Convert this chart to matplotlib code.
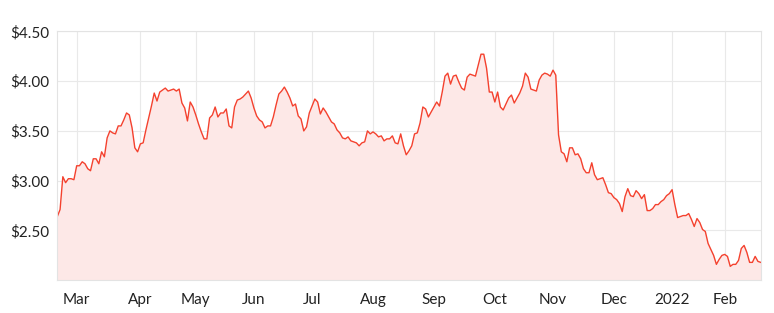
import matplotlib
matplotlib.use("Agg")
import matplotlib.pyplot as plt
import numpy as np

prices = [
    2.64, 2.71, 3.04, 2.98, 3.02, 3.02, 3.01, 3.15, 3.15, 3.19,
    3.17, 3.12, 3.10, 3.22, 3.22, 3.17, 3.29, 3.24, 3.43, 3.50,
    3.48, 3.47, 3.55, 3.55, 3.61, 3.68, 3.66, 3.53, 3.33, 3.29,
    3.37, 3.38, 3.51, 3.63, 3.75, 3.88, 3.80, 3.89, 3.91, 3.93,
    3.90, 3.91, 3.92, 3.90, 3.92, 3.78, 3.73, 3.60, 3.79, 3.74,
    3.66, 3.57, 3.49, 3.42, 3.42, 3.63, 3.66, 3.74, 3.64, 3.68,
    3.68, 3.72, 3.55, 3.53, 3.74, 3.81, 3.82, 3.84, 3.87, 3.90,
    3.83, 3.73, 3.65, 3.61, 3.59, 3.53, 3.55, 3.55, 3.64, 3.76,
    3.87, 3.90, 3.94, 3.89, 3.83, 3.75, 3.77, 3.65, 3.62, 3.50,
    3.54, 3.68, 3.75, 3.82, 3.79, 3.67, 3.73, 3.69, 3.64, 3.59,
    3.57, 3.51, 3.48, 3.43, 3.42, 3.44, 3.40, 3.39, 3.38, 3.35,
    3.38, 3.39, 3.50, 3.47, 3.49, 3.47, 3.44, 3.45, 3.40, 3.42,
    3.42, 3.45, 3.38, 3.37, 3.47, 3.35, 3.26, 3.30, 3.35, 3.47,
    3.48, 3.58, 3.74, 3.72, 3.64, 3.69, 3.74, 3.79, 3.75, 3.89,
    4.05, 4.08, 3.97, 4.05, 4.06, 3.99, 3.93, 3.91, 4.04, 4.07,
    4.06, 4.05, 4.16, 4.27, 4.27, 4.13, 3.89, 3.89, 3.79, 3.89,
    3.74, 3.71, 3.77, 3.83, 3.86, 3.78, 3.83, 3.88, 3.95, 4.08,
    4.04, 3.92, 3.91, 3.90, 4.01, 4.06, 4.08, 4.07, 4.05, 4.11,
    4.06, 3.46, 3.29, 3.27, 3.19, 3.33, 3.33, 3.26, 3.27, 3.22,
    3.12, 3.08, 3.08, 3.18, 3.06, 3.01, 3.02, 3.03, 2.96, 2.88,
    2.87, 2.83, 2.81, 2.77, 2.69, 2.84, 2.92, 2.85, 2.84, 2.90,
    2.87, 2.82, 2.86, 2.70, 2.70, 2.72, 2.76, 2.76, 2.79, 2.81,
    2.85, 2.87, 2.91, 2.76, 2.63, 2.64, 2.65, 2.65, 2.67, 2.61,
    2.54, 2.62, 2.58, 2.51, 2.49, 2.37, 2.31, 2.25, 2.16, 2.21,
    2.25, 2.26, 2.24, 2.14, 2.16, 2.16, 2.20, 2.32, 2.35, 2.28,
    2.18, 2.18, 2.24, 2.19, 2.18,
]
month_labels = ["Mar", "Apr", "May", "Jun", "Jul", "Aug", "Sep", "Oct",
                "Nov", "Dec", "2022", "Feb"]
month_start_idx = [7, 30, 50, 71, 92, 114, 136, 158, 179, 201, 222, 241]
y_ticks = [2.5, 3.0, 3.5, 4.0, 4.5]
y_labels = ["$2.50", "$3.00", "$3.50", "$4.00", "$4.50"]

plt.rcParams['font.family'] = ['Lato', 'DejaVu Sans']

fig = plt.figure(figsize=(7.74, 3.13), dpi=100)
ax = fig.add_axes([57.3/774, 1 - 280.3/313, (760.7-57.3)/774, (280.3-31.3)/313])

x = np.arange(len(prices))
ax.fill_between(x, prices, 2.0, color="#fde8e7", linewidth=0)
ax.plot(x, prices, color="#f4412e", linewidth=1.0)

ax.set_xlim(0, len(prices) - 1)
ax.set_ylim(2.0, 4.5)
ax.set_yticks(y_ticks)
ax.set_yticklabels(y_labels)
ax.set_xticks(month_start_idx)
ax.set_xticklabels(month_labels)
ax.grid(True, color="#e9e9e9", linewidth=0.8)
ax.set_axisbelow(True)
for s in ax.spines.values():
    s.set_color("#e3e3e3")
    s.set_linewidth(0.8)
ax.tick_params(length=0, labelsize=11, colors="#222222", pad=6)
ax.tick_params(axis='x', pad=9)

fig.savefig("out.png", dpi=100, facecolor="white")
